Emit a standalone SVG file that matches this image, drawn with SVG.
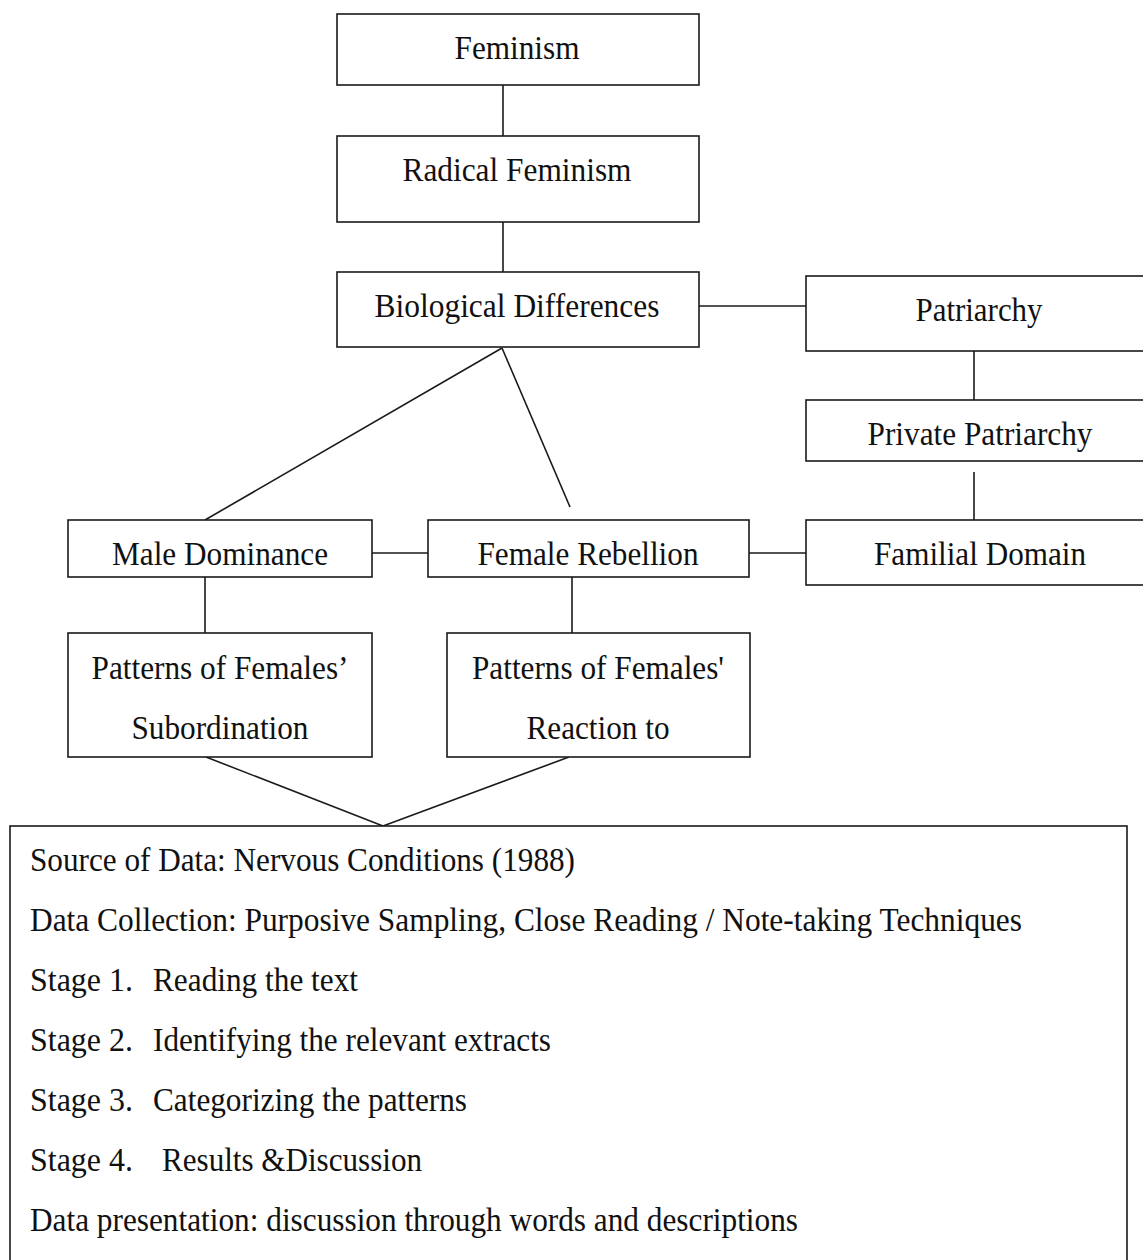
<svg xmlns="http://www.w3.org/2000/svg" width="1143" height="1260" viewBox="0 0 1143 1260">
<style>
.box{fill:#fff;stroke:#1a1a1a;stroke-width:1.6}
.t{font-family:"Liberation Serif","Times New Roman",serif;font-size:34px;fill:#111;text-anchor:middle}
.b{font-family:"Liberation Serif","Times New Roman",serif;font-size:33px;fill:#111}
.c line{stroke:#1a1a1a;stroke-width:1.6}
</style>
<rect width="1143" height="1260" fill="#fff"/>
<g class="c" id="connectors">
<line x1="503" y1="85" x2="503" y2="136"/>
<line x1="503" y1="222" x2="503" y2="272"/>
<line x1="699" y1="306" x2="806" y2="306"/>
<line x1="974" y1="351" x2="974" y2="400"/>
<line x1="974" y1="472" x2="974" y2="520"/>
<line x1="502" y1="348" x2="205" y2="520"/>
<line x1="502" y1="348" x2="570" y2="507"/>
<line x1="372" y1="553" x2="428" y2="553"/>
<line x1="749" y1="553" x2="806" y2="553"/>
<line x1="205" y1="577" x2="205" y2="633"/>
<line x1="572" y1="577" x2="572" y2="633"/>
<line x1="206" y1="757" x2="383" y2="826"/>
<line x1="569" y1="757" x2="383" y2="826"/>
</g>
<g id="feminism"><rect class="box" x="337" y="14" width="362" height="71"/><text class="t" x="517" y="59" textLength="125" lengthAdjust="spacingAndGlyphs">Feminism</text></g>
<g id="radical"><rect class="box" x="337" y="136" width="362" height="86"/><text class="t" x="517" y="181" textLength="229" lengthAdjust="spacingAndGlyphs">Radical Feminism</text></g>
<g id="biological"><rect class="box" x="337" y="272" width="362" height="75"/><text class="t" x="517" y="317" textLength="285" lengthAdjust="spacingAndGlyphs">Biological Differences</text></g>
<g id="patriarchy"><rect class="box" x="806" y="276" width="345" height="75"/><text class="t" x="979" y="321" textLength="127" lengthAdjust="spacingAndGlyphs">Patriarchy</text></g>
<g id="private"><rect class="box" x="806" y="400" width="345" height="61"/><text class="t" x="980" y="445" textLength="225" lengthAdjust="spacingAndGlyphs">Private Patriarchy</text></g>
<g id="familial"><rect class="box" x="806" y="520" width="345" height="65"/><text class="t" x="980" y="565" textLength="212" lengthAdjust="spacingAndGlyphs">Familial Domain</text></g>
<g id="male"><rect class="box" x="68" y="520" width="304" height="57"/><text class="t" x="220" y="565" textLength="216" lengthAdjust="spacingAndGlyphs">Male Dominance</text></g>
<g id="female"><rect class="box" x="428" y="520" width="321" height="57"/><text class="t" x="588" y="565" textLength="221" lengthAdjust="spacingAndGlyphs">Female Rebellion</text></g>
<g id="subordination"><rect class="box" x="68" y="633" width="304" height="124"/><text class="t" x="220" y="679" textLength="257" lengthAdjust="spacingAndGlyphs">Patterns of Females’</text><text class="t" x="220" y="739" textLength="177" lengthAdjust="spacingAndGlyphs">Subordination</text></g>
<g id="reaction"><rect class="box" x="447" y="633" width="303" height="124"/><text class="t" x="598" y="679" textLength="252" lengthAdjust="spacingAndGlyphs">Patterns of Females'</text><text class="t" x="598" y="739" textLength="143" lengthAdjust="spacingAndGlyphs">Reaction to</text></g>
<g id="method"><rect class="box" x="10" y="826" width="1117" height="450"/>
<text class="b" x="30" y="871" textLength="545" lengthAdjust="spacingAndGlyphs">Source of Data: Nervous Conditions (1988)</text>
<text class="b" x="30" y="931" textLength="992" lengthAdjust="spacingAndGlyphs">Data Collection: Purposive Sampling, Close Reading / Note-taking Techniques</text>
<text class="b" x="30" y="991" textLength="103" lengthAdjust="spacingAndGlyphs">Stage 1.</text><text class="b" x="153" y="991" textLength="205" lengthAdjust="spacingAndGlyphs">Reading the text</text>
<text class="b" x="30" y="1051" textLength="103" lengthAdjust="spacingAndGlyphs">Stage 2.</text><text class="b" x="153" y="1051" textLength="398" lengthAdjust="spacingAndGlyphs">Identifying the relevant extracts</text>
<text class="b" x="30" y="1111" textLength="103" lengthAdjust="spacingAndGlyphs">Stage 3.</text><text class="b" x="153" y="1111" textLength="314" lengthAdjust="spacingAndGlyphs">Categorizing the patterns</text>
<text class="b" x="30" y="1171" textLength="103" lengthAdjust="spacingAndGlyphs">Stage 4.</text><text class="b" x="162" y="1171" textLength="260" lengthAdjust="spacingAndGlyphs">Results &amp;Discussion</text>
<text class="b" x="30" y="1231" textLength="768" lengthAdjust="spacingAndGlyphs">Data presentation: discussion through words and descriptions</text>
</g>
</svg>
